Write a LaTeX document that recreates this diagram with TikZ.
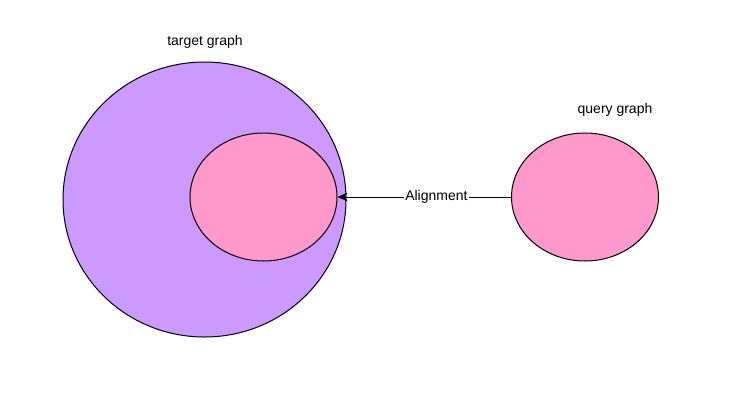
\documentclass[tikz,border=0pt]{standalone}
\usepackage{fontspec}
\setmainfont{Liberation Sans}
\usetikzlibrary{arrows.meta,shapes.geometric}
\definecolor{purp}{HTML}{CC99FF}
\definecolor{pinkf}{HTML}{FF99CC}
\begin{document}
\begin{tikzpicture}[x=0.75pt,y=-0.75pt,
  blob/.style={draw=black,line width=0.75pt,ellipse,inner sep=0pt},
  lbl/.style={font=\fontsize{10.5pt}{12pt}\selectfont,inner sep=1pt}]
\useasboundingbox (0,0) rectangle (749,400);
\fill[white] (0,0) rectangle (749,400);
\draw[fill=purp,line width=0.75pt] (204.5,199.5) ellipse [x radius=141.5, y radius=137.5];
\node[blob,fill=pinkf,minimum width=110.25pt,minimum height=96pt] (inner) at (263.5,197) {};
\node[blob,fill=pinkf,minimum width=110.25pt,minimum height=96pt] (query) at (585,197) {};
\draw[line width=0.75pt,-{Stealth[length=7.5pt,width=6.5pt,inset=2pt]}] (query.west) -- node[lbl,fill=white,pos=0.43]{Alignment} (inner.east);
\node[lbl] (tlabel) at (205,42) {target graph};
\node[lbl] (qlabel) at (615,110) {query graph};
\end{tikzpicture}
\end{document}
